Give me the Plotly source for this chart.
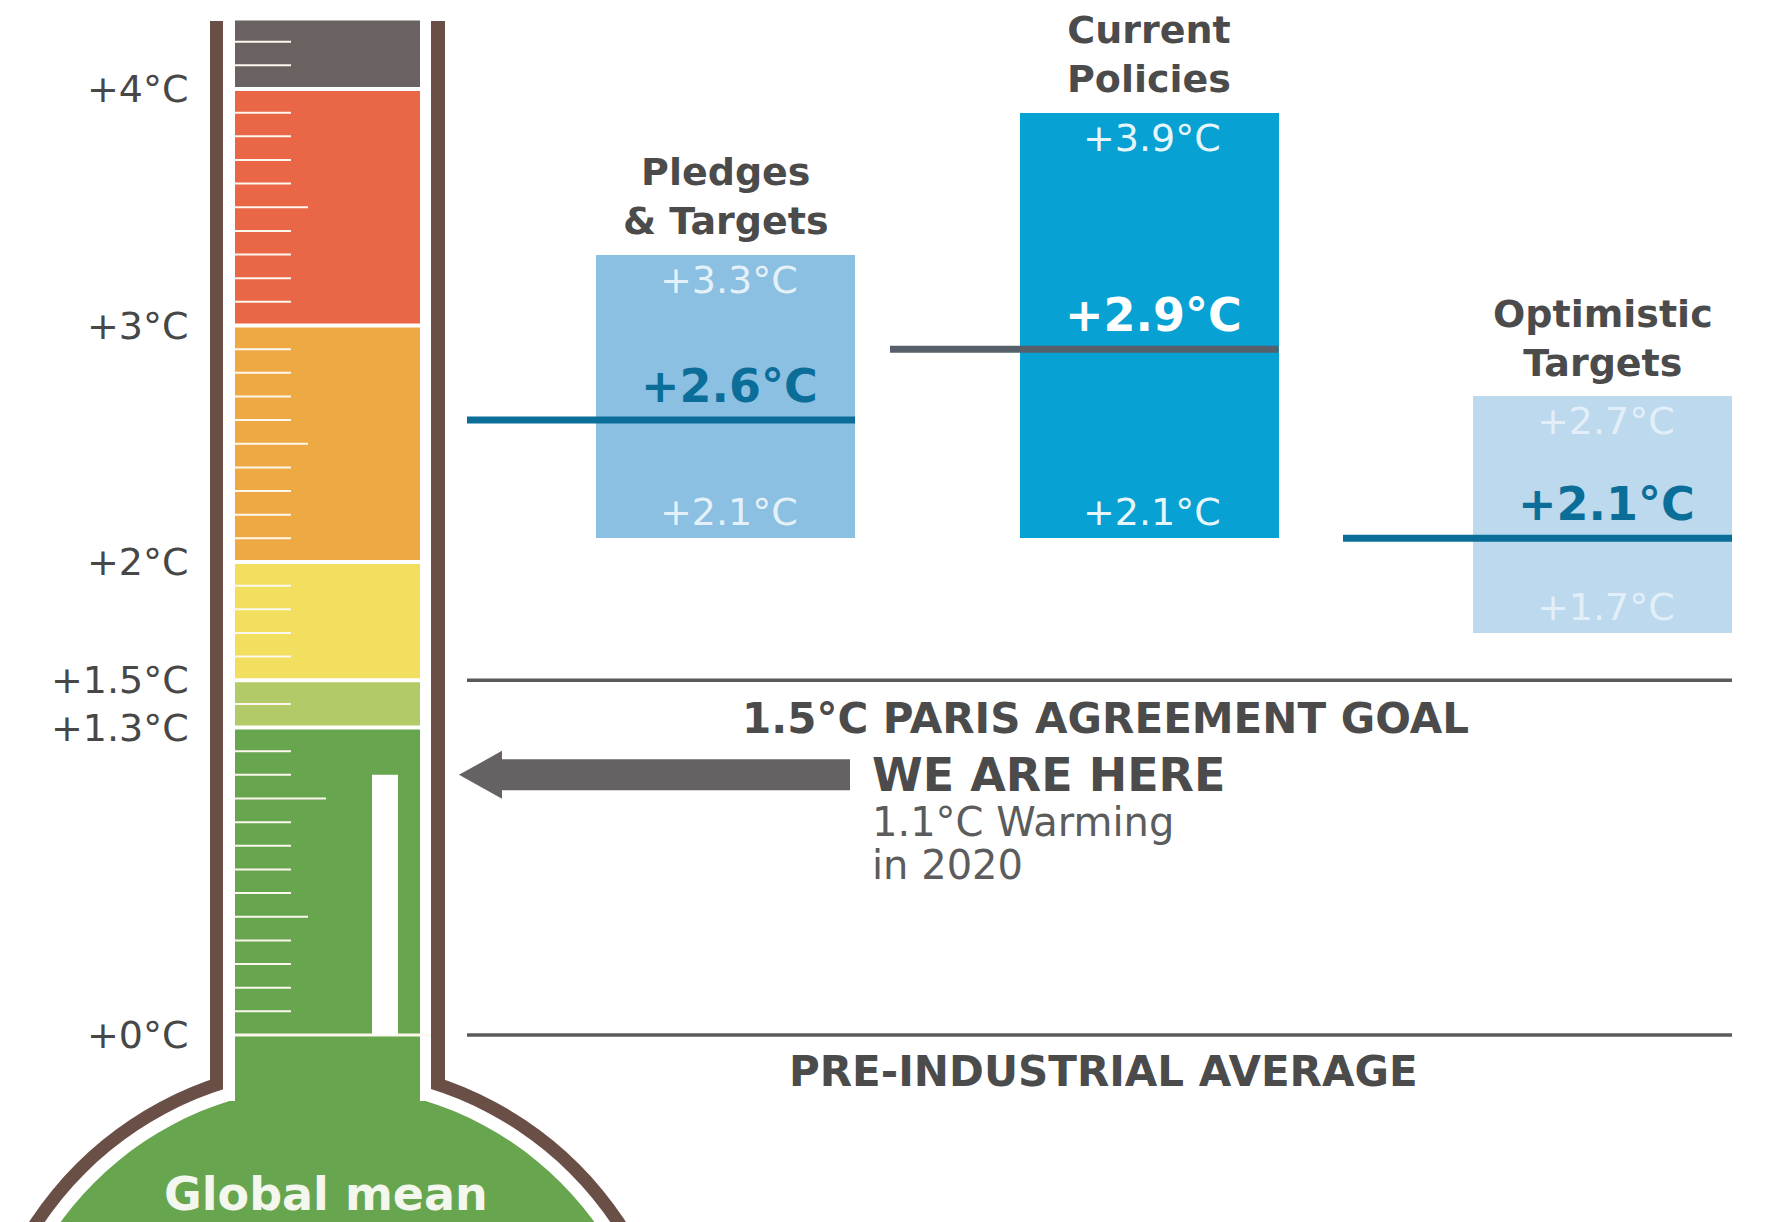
import plotly.graph_objects as go

# ---------------- data ----------------
scenario_titles = [["Pledges", "& Targets"], ["Current", "Policies"], ["Optimistic", "Targets"]]
scenario_low = [2.1, 2.1, 1.7]
scenario_high = [3.3, 3.9, 2.7]
scenario_median = [2.6, 2.9, 2.1]
scenario_low_labels = ["+2.1°C", "+2.1°C", "+1.7°C"]
scenario_high_labels = ["+3.3°C", "+3.9°C", "+2.7°C"]
scenario_median_labels = ["+2.6°C", "+2.9°C", "+2.1°C"]

scale_values = [0, 1.3, 1.5, 2, 3, 4]
scale_labels = ["+0°C", "+1.3°C", "+1.5°C", "+2°C", "+3°C", "+4°C"]
band_edges = [0, 1.3, 1.5, 2, 3, 4, 4.29]

paris_goal = 1.5
pre_industrial = 0.0
current_warming = 1.1
current_label = "1.1°C Warming"
current_year_label = "in 2020"

# ---------------- styles / layout ----------------
W, H = 1776, 1222
PX0 = 1027.0      # pixel row of 0 °C
PPD = 236.5       # pixels per °C


def T(py):
    return (PX0 - py) / PPD


band_colors = ["#67a54e", "#b2ca67", "#f2df5f", "#eea944", "#e96646", "#6a6260"]
box_colors = ["#8cc0e2", "#07a1d3", "#bcd9ee"]
median_colors = ["#0b6e99", "#56606a", "#0b6e99"]
median_label_colors = ["#0b6e99", "#ffffff", "#0b6e99"]
range_label_colors = ["rgba(255,255,255,0.78)", "rgba(255,255,255,0.92)", "rgba(255,255,255,0.6)"]
box_centers = [717.5, 1141, 1594.5]
box_width = 259
line_starts = [459, 882, 1335]
ref_x0, ref_x1 = 459, 1724

WALL = "#6a4f47"
GREEN = band_colors[0]
TXT = "#4b4b4b"
FONT = "DejaVu Sans"

fig = go.Figure()

# scenario range boxes
fig.add_trace(go.Bar(
    x=box_centers,
    y=[h - l for h, l in zip(scenario_high, scenario_low)],
    base=scenario_low,
    width=box_width,
    marker=dict(color=box_colors, line=dict(width=0)),
    hoverinfo="skip",
))

# median lines
for i, m in enumerate(scenario_median):
    fig.add_trace(go.Scatter(
        x=[line_starts[i], box_centers[i] + box_width / 2], y=[m, m],
        mode="lines", line=dict(color=median_colors[i], width=7),
        hoverinfo="skip",
    ))

# reference lines
for v in [paris_goal, pre_industrial]:
    fig.add_trace(go.Scatter(
        x=[ref_x0, ref_x1], y=[v, v], mode="lines",
        line=dict(color="#5a5a5a", width=3.5), hoverinfo="skip",
    ))

shapes = []
# ---- thermometer bulb ----
cx, cy = 319.5, 1408.0
for R, col in [(356, WALL), (343, "white"), (330, GREEN)]:
    shapes.append(dict(type="circle", xref="x", yref="y",
                       x0=cx - R, x1=cx + R, y0=T(cy + R), y1=T(cy - R),
                       fillcolor=col, line=dict(width=0), layer="below"))
# tube walls
top_py = 13
for x0, x1 in [(202, 215), (423, 437)]:
    shapes.append(dict(type="rect", xref="x", yref="y", x0=x0, x1=x1,
                       y0=T(1072), y1=T(top_py), fillcolor=WALL, line=dict(width=0), layer="below"))
for x0, x1 in [(215, 227), (412, 423)]:
    shapes.append(dict(type="rect", xref="x", yref="y", x0=x0, x1=x1,
                       y0=T(1093), y1=T(1030), fillcolor="white", line=dict(width=0), layer="below"))
# coloured bands
gap = 2.0 / PPD
for i, col in enumerate(band_colors):
    lo, hi = band_edges[i], band_edges[i + 1]
    y0 = T(1100) if i == 0 else lo + gap
    y1 = hi if i == len(band_colors) - 1 else hi - gap
    shapes.append(dict(type="rect", xref="x", yref="y", x0=227, x1=412,
                       y0=y0, y1=y1, fillcolor=col, line=dict(width=0), layer="below"))
# tick marks every 0.1 °C
edges_set = set(round(e, 1) for e in band_edges)
for k in range(1, 43):
    v = round(k * 0.1, 1)
    if v in edges_set:
        continue
    if abs(v - 1.0) < 1e-9:
        xe = 318
    elif abs((v * 10) % 10 - 5) < 1e-6:
        xe = 300
    else:
        xe = 283
    shapes.append(dict(type="line", xref="x", yref="y", x0=227, x1=xe, y0=v, y1=v,
                       line=dict(color="#fdf8ee", width=2), layer="below"))
# 0 °C white line and current-warming white bar
shapes.append(dict(type="line", xref="x", yref="y", x0=227, x1=423, y0=0, y1=0,
                   line=dict(color="#fdf8ee", width=3), layer="below"))
shapes.append(dict(type="rect", xref="x", yref="y", x0=364, x1=390, y0=0, y1=current_warming,
                   fillcolor="white", line=dict(width=0), layer="below"))

# ---- "we are here" arrow ----
hh = 24.0 / PPD
sh = 15.5 / PPD
cw = current_warming
path = (f"M 451 {cw} L 494 {cw + hh} L 494 {cw + sh} L 842 {cw + sh} "
        f"L 842 {cw - sh} L 494 {cw - sh} L 494 {cw - hh} Z")
shapes.append(dict(type="path", xref="x", yref="y", path=path,
                   fillcolor="#666263", line=dict(width=0)))

annotations = []


def ann(text, x, y, size, color, bold=False, xanchor="center", yshift=0, family=FONT):
    annotations.append(dict(
        text=f"<b>{text}</b>" if bold else text, x=x, y=y, xref="x", yref="y",
        showarrow=False, xanchor=xanchor, yanchor="middle", yshift=yshift,
        font=dict(family=family, size=size, color=color),
    ))


# scale labels
for v, lab in zip(scale_values, scale_labels):
    ann(lab, 183, v, 38, "#474747", xanchor="right")

# scenario titles and values
for i in range(3):
    c = box_centers[i]
    ann("<br>".join(f"<b>{t}</b>" for t in scenario_titles[i]), c, scenario_high[i], 38, TXT, yshift=58)
    ann(scenario_high_labels[i], c + 3, scenario_high[i], 38, range_label_colors[i], yshift=-25)
    ann(scenario_low_labels[i], c + 3, scenario_low[i], 38, range_label_colors[i], yshift=26)
    ann(scenario_median_labels[i], c + 4, scenario_median[i], 46, median_label_colors[i], bold=True, yshift=34)

ann("1.5°C PARIS AGREEMENT GOAL", 1097, paris_goal, 42, TXT, bold=True, yshift=-38)
ann("PRE-INDUSTRIAL AVERAGE", 1095, pre_industrial, 42, TXT, bold=True, yshift=-36)
ann("WE ARE HERE", 862, current_warming, 46, TXT, bold=True, xanchor="left")
ann(current_label, 862, current_warming, 40, "#5c5c5c", xanchor="left", yshift=-47)
ann(current_year_label, 862, current_warming, 40, "#5c5c5c", xanchor="left", yshift=-90)
ann("Global mean", 318, T(1186), 46, "#f4f7ee", bold=True)

fig.update_layout(
    width=W, height=H,
    margin=dict(l=0, r=0, t=0, b=0),
    paper_bgcolor="white", plot_bgcolor="white",
    showlegend=False,
    xaxis=dict(range=[0, W], visible=False, fixedrange=True),
    yaxis=dict(range=[T(H), T(0)], visible=False, fixedrange=True),
    shapes=shapes,
    annotations=annotations,
    bargap=0,
)

fig.write_html("out.html")
